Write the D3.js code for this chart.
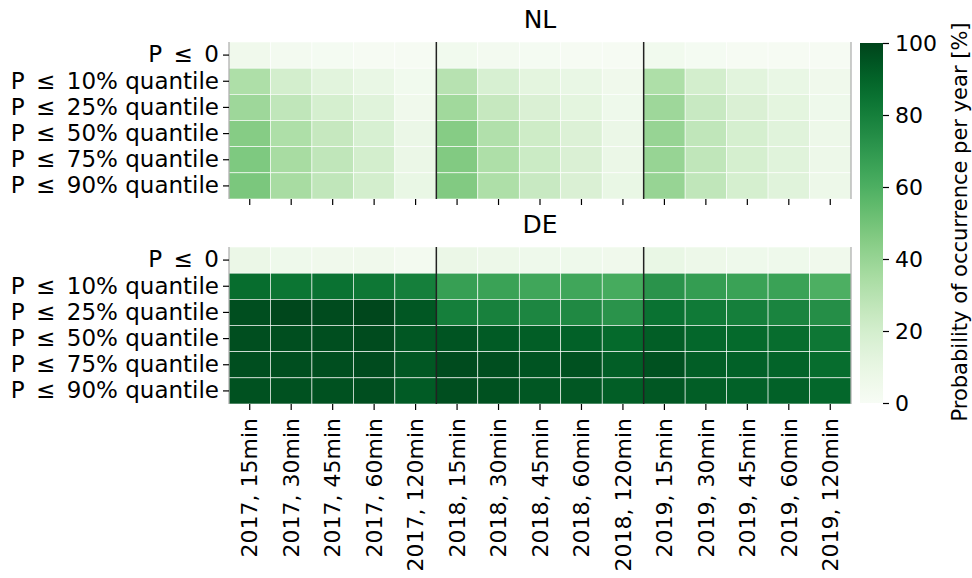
<!DOCTYPE html>
<html><head><meta charset="utf-8">
<script src="https://cdn.jsdelivr.net/npm/d3@7"></script>
<style>body{margin:0;background:#fff;} text{font-family:"DejaVu Sans",sans-serif;fill:#000;}</style>
</head><body><svg id="c" width="972" height="578"></svg>
<script>
const rows = ["P \u2264 0","P \u2264 10% quantile","P \u2264 25% quantile","P \u2264 50% quantile","P \u2264 75% quantile","P \u2264 90% quantile"];
const cols = ["2017, 15min","2017, 30min","2017, 45min","2017, 60min","2017, 120min",
              "2018, 15min","2018, 30min","2018, 45min","2018, 60min","2018, 120min",
              "2019, 15min","2019, 30min","2019, 45min","2019, 60min","2019, 120min"];
const nlValues = [
  [5,3,2,1,1, 4,3,2,1,1, 4,2,1,1,1],
  [33,20,13,9,4, 30,18,12,9,5, 33,20,13,9,5],
  [38,27,19,14,5, 37,25,17,12,6, 38,24,17,12,6],
  [45,33,25,18,8, 45,32,22,16,8, 40,27,19,14,7],
  [47,35,27,20,8, 46,33,23,17,8, 40,27,19,14,7],
  [48,35,27,20,9, 46,33,24,17,9, 40,27,19,14,7]
];
const deValues = [
  [8,6,5,5,3, 8,7,6,6,5, 9,7,6,6,5],
  [87,84,85,83,80, 67,66,64,64,62, 72,68,66,66,60],
  [97,99,98,99,94, 80,79,77,76,72, 85,82,80,78,74],
  [97,97,97,98,94, 95,93,92,91,88, 92,89,88,87,83],
  [97,97,97,98,94, 98,97,95,96,92, 96,92,91,90,87],
  [96,96,96,97,93, 97,96,94,94,92, 94,92,91,91,89]
];
const panels = [{title:"NL", values:nlValues, top:42}, {title:"DE", values:deValues, top:247}];
const cbTicks = [0,20,40,60,80,100];
const cbLabel = "Probability of occurrence per year [%]";

const svg = d3.select("#c");
const left = 229, right = 851, ph = 157;
const color = d3.scaleSequential(d3.interpolateGreens).domain([0,100]);
const x = d3.scaleBand().domain(cols).range([left,right]).padding(0);

panels.forEach((p,pi)=>{
  const y = d3.scaleBand().domain(rows).range([p.top,p.top+ph]).padding(0);
  const g = svg.append("g");
  const cells = [];
  p.values.forEach((r,ri)=>r.forEach((v,ci)=>cells.push({r:rows[ri],c:cols[ci],v})));
  g.selectAll("rect").data(cells).join("rect")
    .attr("x",d=>x(d.c)).attr("y",d=>y(d.r))
    .attr("width",x.bandwidth()).attr("height",y.bandwidth())
    .attr("fill",d=>color(d.v)).attr("stroke","#fff").attr("stroke-width",0.6);
  [5,10].forEach(k=>{
    const xx = x(cols[k]);
    g.append("line").attr("x1",xx).attr("x2",xx).attr("y1",p.top).attr("y2",p.top+ph)
      .attr("stroke","#222").attr("stroke-width",1.5);
  });
  [left,right].forEach(xx=>g.append("line").attr("x1",xx).attr("x2",xx).attr("y1",p.top).attr("y2",p.top+ph)
    .attr("stroke","#999").attr("stroke-width",1));
  const ya = g.append("g").attr("transform",`translate(${left},0)`)
    .call(d3.axisLeft(y).tickSize(6).tickPadding(4)
      .tickFormat(d=>d.replace(" \u2264 ","\u2002\u2264\u2002")));
  ya.select(".domain").remove();
  ya.selectAll("line").attr("stroke","#000").attr("stroke-width",1.2);
  ya.selectAll("text").attr("font-size",23).attr("font-family","DejaVu Sans");
  const xa = g.append("g").attr("transform",`translate(0,${p.top+ph})`)
    .call(d3.axisBottom(x).tickSize(6).tickPadding(4));
  xa.select(".domain").remove();
  xa.selectAll("line").attr("stroke","#000").attr("stroke-width",1.2);
  if(pi===0){ xa.selectAll("text").remove(); }
  else {
    xa.selectAll("text").attr("font-size",22).attr("font-family","DejaVu Sans")
      .attr("text-anchor","end").attr("dy","0.35em")
      .attr("transform","translate(0,14) rotate(-90)").attr("x",0).attr("y",0);
  }
  svg.append("text").attr("x",(left+right)/2).attr("y",pi===0?28:233).attr("text-anchor","middle")
    .attr("font-size",25).text(p.title);
});

const cbx = 860, cbw = 23, cbTop = 43, cbBot = 403;
const defs = svg.append("defs");
const grad = defs.append("linearGradient").attr("id","gr").attr("x1",0).attr("x2",0).attr("y1",1).attr("y2",0);
d3.range(0,1.001,0.05).forEach(t=>grad.append("stop").attr("offset",t).attr("stop-color",color(t*100)));
svg.append("rect").attr("x",cbx).attr("y",cbTop).attr("width",cbw).attr("height",cbBot-cbTop).attr("fill","url(#gr)");
const cy = d3.scaleLinear().domain([0,100]).range([cbBot,cbTop]);
const ca = svg.append("g").attr("transform",`translate(${cbx+cbw},0)`)
  .call(d3.axisRight(cy).tickValues(cbTicks).tickSize(6).tickPadding(6));
ca.select(".domain").remove();
ca.selectAll("line").attr("stroke","#000").attr("stroke-width",1.2);
ca.selectAll("text").attr("font-size",22).attr("font-family","DejaVu Sans");
svg.append("text").attr("transform",`translate(967,${(cbTop+cbBot)/2 - 1}) rotate(-90)`)
  .attr("text-anchor","middle").attr("font-size",21).text(cbLabel);
</script></body></html>
